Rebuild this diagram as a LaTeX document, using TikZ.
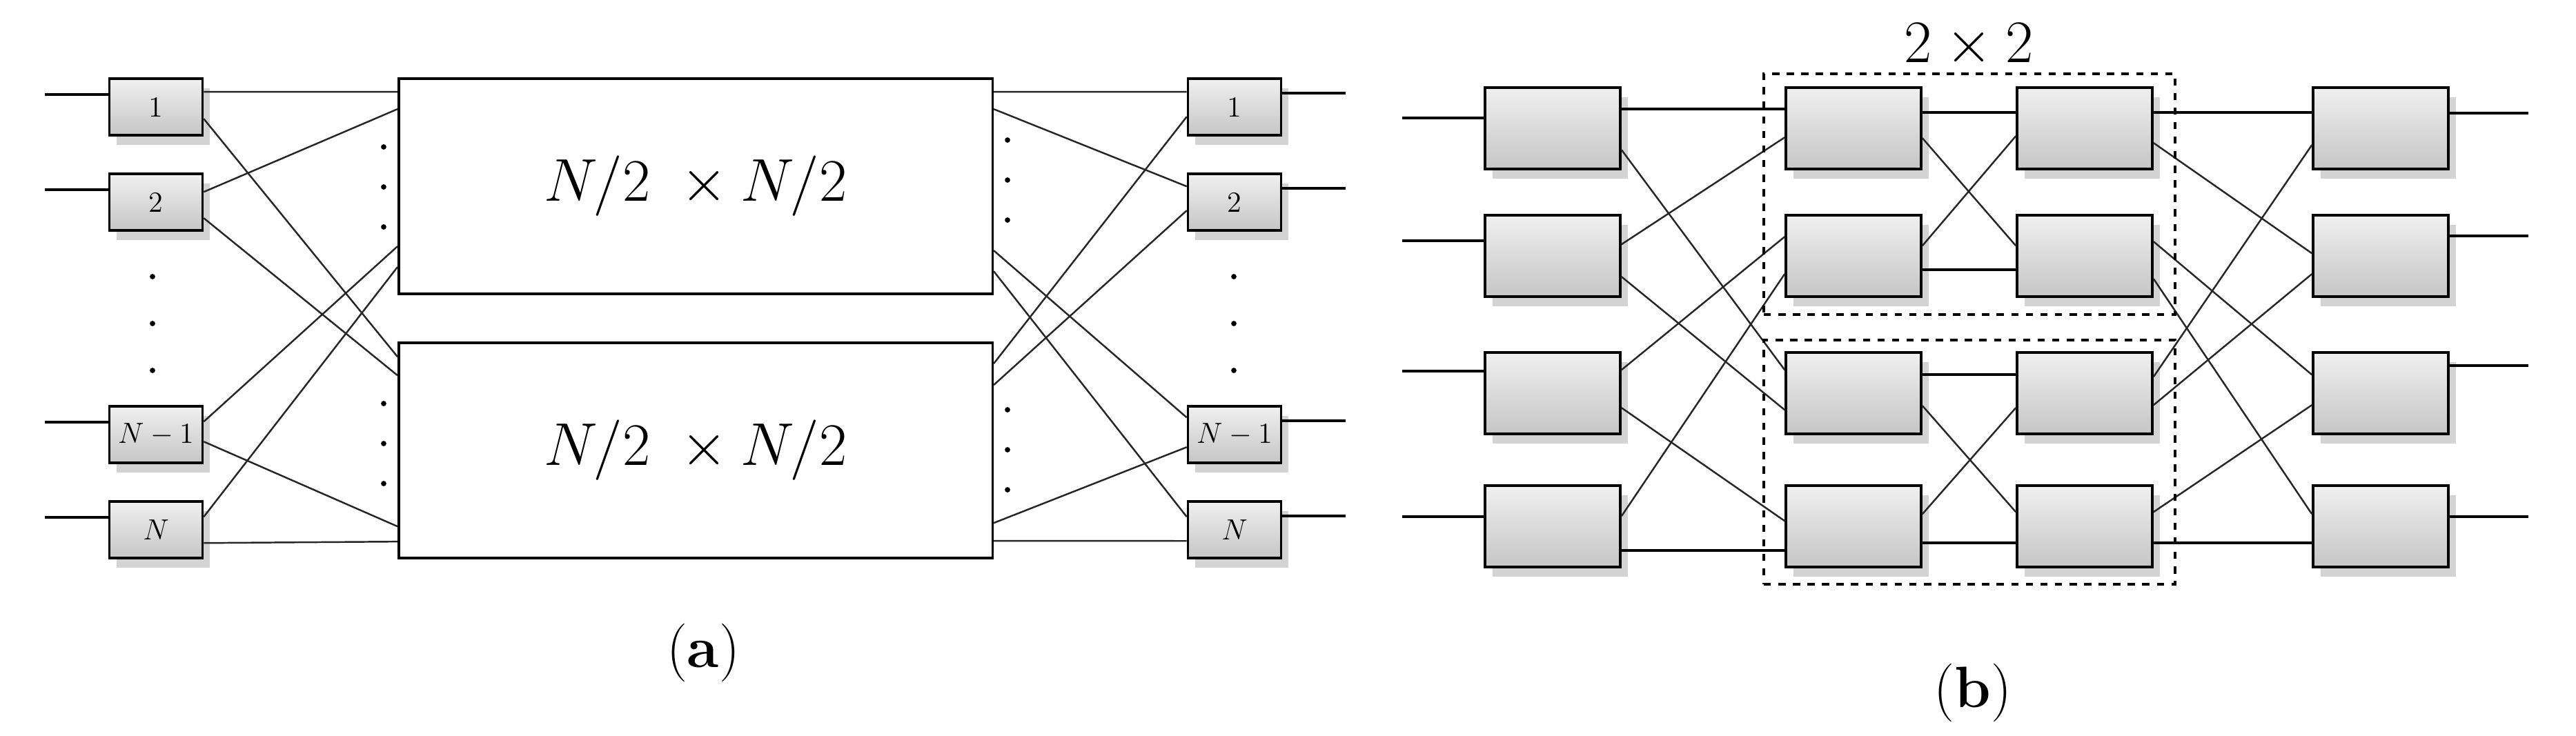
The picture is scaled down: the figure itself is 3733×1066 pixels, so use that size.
\documentclass[tikz,border=0pt]{standalone}
\usetikzlibrary{calc,shadows}
\begin{document}
\begin{tikzpicture}[x=0.01cm,y=-0.01cm,
 gbox/.style={draw=black,line width=1pt,top color=gray!12,bottom color=gray!45,drop shadow={shadow xshift=3pt,shadow yshift=-4pt,opacity=0.35},inner sep=0pt},
 sbox/.style={gbox,minimum width=1.35cm,minimum height=0.82cm,font=\fontsize{12}{12}\selectfont},
 bbox/.style={gbox,minimum width=1.96cm,minimum height=1.18cm},
 big/.style={draw=black,line width=1pt,fill=white,minimum width=8.6cm,minimum height=3.12cm,font=\fontsize{36}{36}\selectfont},
 ln/.style={line width=0.7pt,draw=black!85},
 io/.style={line width=1pt},
 dotc/.style={fill=black,circle,inner sep=0pt,minimum size=2.2pt}]
\useasboundingbox (0,0) rectangle (3733,1066);
\newcommand{\lk}[4]{\draw[ln] ($(#1.north east)+(0,#2)$) -- ($(#3.north west)+(0,#4)$);}
% ---------- panel (a)
\node[big] (T) at (1008,270) {$N/2\;\times N/2$};
\node[big] (B) at (1008,653) {$N/2\;\times N/2$};
\foreach \n/\y/\t in {1/155/1,2/293/2,3/630/{$N-1$},4/768/{$N$}}{
 \node[sbox] (L\n) at (226,\y) {\t};
 \node[sbox] (R\n) at (1789,\y) {\t};
 \coordinate (li\n) at (65,\y-18);
 \coordinate (ro\n) at (1950,\y-20);
 \draw[io] (li\n) -- (li\n -| L\n.west);
 \draw[io] (ro\n -| R\n.east) -- (ro\n);
}
\lk{L1}{21}{T}{21}
\lk{L1}{60}{B}{22}
\lk{L2}{28}{T}{46}
\lk{L2}{66}{B}{49}
\lk{L3}{24}{T}{245}
\lk{L3}{53}{B}{268}
\lk{L4}{24}{T}{275}
\lk{L4}{62}{B}{290}
\lk{T}{21}{R1}{21}
\lk{T}{46}{R2}{20}
\lk{T}{251}{R3}{18}
\lk{T}{281}{R4}{24}
\lk{B}{32}{R1}{57}
\lk{B}{63}{R2}{55}
\lk{B}{263}{R3}{61}
\lk{B}{289}{R4}{59}
\foreach \y [count=\i] in {213,271,329,585,643,701}{\node[dotc] (dl\i) at (556,\y) {};}
\foreach \y [count=\i] in {203,261,319,594,652,710}{\node[dotc] (dr\i) at (1460,\y) {};}
\foreach \y [count=\i] in {401,469,537}{\node[dotc] (dv\i) at (221,\y) {};\node[dotc] (dw\i) at (1788,\y) {};}
\node[font=\fontsize{24}{24}\selectfont] (capa) at (1019,946) {(\textbf{a})};
% ---------- panel (b)
\foreach \c/\x in {1/2250,2/2686,3/3021,4/3450}{
 \foreach \r/\y in {1/186,2/371,3/570,4/763}{
  \node[bbox] (b\c\r) at (\x,\y) {};
 }}
\coordinate (bi1) at (2032,171);
\coordinate (bi2) at (2032,349);
\coordinate (bi3) at (2032,538);
\coordinate (bi4) at (2032,749);
\coordinate (bo1) at (3664,164);
\coordinate (bo2) at (3664,342);
\coordinate (bo3) at (3664,530);
\coordinate (bo4) at (3664,749);
\foreach \r in {1,2,3,4}{
 \draw[io] (bi\r) -- (bi\r -| b1\r.west);
 \draw[io] (bo\r -| b4\r.east) -- (bo\r);
}
% col1 -> col2
\draw[io] ($(b11.north east)+(0,33)$) -- ($(b21.north west)+(0,33)$);
\lk{b11}{92}{b23}{27}
\lk{b12}{44}{b21}{74}
\lk{b12}{91}{b23}{85}
\lk{b13}{27}{b22}{33}
\lk{b13}{82}{b24}{53}
\lk{b14}{46}{b22}{87}
\draw[io] ($(b14.north east)+(0,96)$) -- ($(b24.north west)+(0,96)$);
% col2 -> col3
\draw[io] ($(b21.north east)+(0,38)$) -- ($(b31.north west)+(0,38)$);
\lk{b21}{75}{b32}{46}
\lk{b22}{46}{b31}{72}
\draw[io] ($(b22.north east)+(0,81)$) -- ($(b32.north west)+(0,81)$);
\draw[io] ($(b23.north east)+(0,34)$) -- ($(b33.north west)+(0,34)$);
\lk{b23}{79}{b34}{40}
\lk{b24}{43}{b33}{82}
\draw[io] ($(b24.north east)+(0,85)$) -- ($(b34.north west)+(0,85)$);
% col3 -> col4
\draw[io] ($(b31.north east)+(0,38)$) -- ($(b41.north west)+(0,38)$);
\lk{b31}{82}{b42}{57}
\lk{b32}{40}{b43}{34}
\lk{b32}{94}{b44}{43}
\lk{b33}{37}{b41}{85}
\lk{b33}{78}{b42}{87}
\lk{b34}{40}{b43}{78}
\draw[io] ($(b34.north east)+(0,85)$) -- ($(b44.north west)+(0,85)$);
% dashed groups
\node[draw,dashed,line width=1pt,minimum width=5.96cm,minimum height=3.49cm] (g1) at (2854,281.5) {};
\node[draw,dashed,line width=1pt,minimum width=5.96cm,minimum height=3.54cm] (g2) at (2854,670) {};
\node[font=\fontsize{26}{26}\selectfont] (lab) at (2853,66) {$2\times2$};
\node[font=\fontsize{24}{24}\selectfont] (capb) at (2859,1004) {(\textbf{b})};
\end{tikzpicture}
\end{document}
